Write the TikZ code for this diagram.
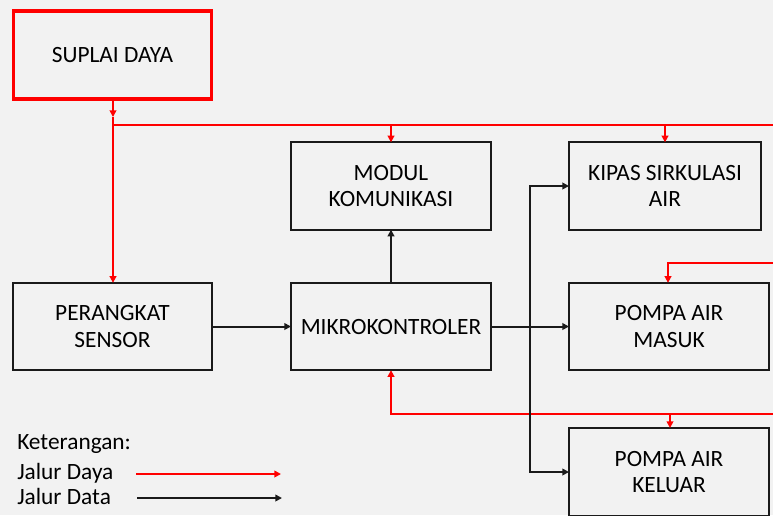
\documentclass[tikz,border=0pt]{standalone}
\usepackage{fontspec}
\setmainfont{Carlito}
\usetikzlibrary{arrows.meta}
\definecolor{bg}{HTML}{F2F2F2}
\definecolor{ln}{HTML}{1A1A1A}
\definecolor{pw}{HTML}{FF0000}
\begin{document}
\begin{tikzpicture}[x=0.75pt,y=-0.75pt,
  every node/.style={font=\fontsize{17.5}{20}\selectfont, text=black},
  blk/.style={draw=ln, line width=1.5pt, rectangle, inner sep=0pt, outer sep=0pt,
     minimum width=150pt, minimum height=65.5pt, align=center},
  pbox/.style={draw=pw, line width=2.3pt, rectangle, inner sep=0pt, outer sep=0pt,
     minimum width=149pt, minimum height=66pt, align=center},
  dat/.style={draw=ln, line width=1.5pt, -{Triangle[length=5pt,width=5pt]}},
  pwr/.style={draw=pw, line width=1.5pt, -{Triangle[length=5pt,width=5pt]}},
  pwl/.style={draw=pw, line width=1.5pt}]
\useasboundingbox (0,0) rectangle (773,515);
\fill[bg] (0,0) rectangle (773,515);
\begin{scope}
\clip (0,0) rectangle (773,515);
\node[pbox] (sup) at (112.5,55) {SUPLAI DAYA};
\node[blk] (mod) at (391,186) {MODUL\\KOMUNIKASI};
\node[blk, minimum width=144pt] (kip) at (665,186) {KIPAS SIRKULASI\\AIR};
\node[blk, minimum width=149pt] (sen) at (112.5,326.5) {PERANGKAT\\SENSOR};
\node[blk] (mik) at (391,326.5) {MIKROKONTROLER};
\node[blk] (mas) at (669,326.5) {POMPA AIR\\MASUK};
\node[blk, minimum height=66pt] (kel) at (669,472) {POMPA AIR\\KELUAR};

% power lines
\coordinate (pa) at (113,117);
\coordinate (pj) at (113,125);
\coordinate (pr) at (773,125);
\path[pwr] (sup.south -| pa) -- (pa);
\path[pwr] (pa) -- (sen.north -| pa);
\path[pwl] (pj) -- (pr);
\path[pwr] (mod.north |- pj) -- (mod.north);
\path[pwr] (kip.north |- pj) -- (kip.north);
\coordinate (pm) at (773,263);
\coordinate (pmx) at (668,263);
\path[pwr] (pm) -- (pmx) -- (pmx |- mas.north);
\coordinate (pk) at (773,414);
\coordinate (pkx) at (391,414);
\path[pwr] (pk) -- (pkx) -- (mik.south);
\coordinate (pkk) at (670,414);
\path[pwr] (pkk) -- (pkk |- kel.north);

% data lines
\path[dat] (sen.east) -- (mik.west);
\path[dat] (mik.north) -- (mod.south);
\path[dat] (mik.east) -- (mas.west);
\coordinate (dj) at (530,326.5);
\path[dat] (dj) |- (kip.west);
\path[dat] (dj) |- (kel.west);
\end{scope}

% legend
\node[anchor=west, inner sep=0pt] (ket) at (17,444) {Keterangan:};
\node[anchor=west, inner sep=0pt] (jdy) at (17,473) {Jalur Daya};
\node[anchor=west, inner sep=0pt] (jdt) at (17,496) {Jalur Data};
\coordinate (la) at (136,474);
\coordinate (lb) at (281,474);
\coordinate (lc) at (137,498);
\coordinate (ld) at (282,498);
\path[pwr] (la) -- (lb);
\path[dat] (lc) -- (ld);
\end{tikzpicture}
\end{document}
